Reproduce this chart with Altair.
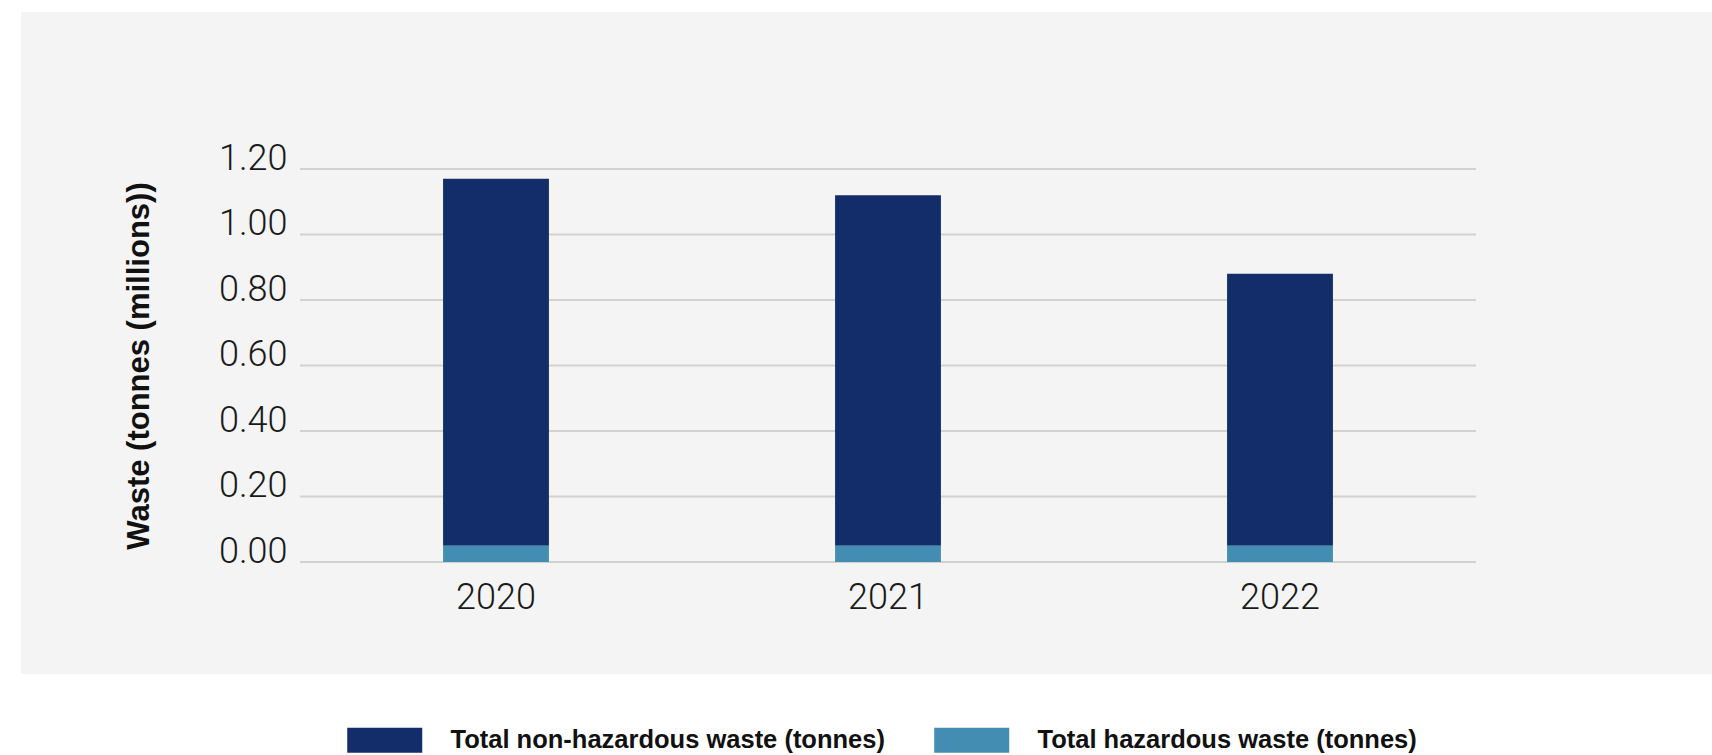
import altair as alt
import pandas as pd

years = ["2020", "2021", "2022"]
non_hazardous = [1.12, 1.07, 0.83]
hazardous = [0.05, 0.05, 0.05]
series = ["Total non-hazardous waste (tonnes)", "Total hazardous waste (tonnes)"]
colors = ["#122D69", "#438DB2"]
y_ticks = [0.0, 0.2, 0.4, 0.6, 0.8, 1.0, 1.2]

rows = []
for i, yr in enumerate(years):
    rows.append({"year": yr, "series": series[0], "value": non_hazardous[i], "stack_order": 1})
    rows.append({"year": yr, "series": series[1], "value": hazardous[i], "stack_order": 0})
df = pd.DataFrame(rows)
grid_df = pd.DataFrame({"tick": y_ticks})

W, H = 1176, 393
yscale = alt.Scale(domain=[0, 1.2], nice=False)

y_axis = alt.Axis(
    values=y_ticks, format=".2f", grid=False, domain=False, ticks=False, zindex=1,
    labelFont="Roboto", labelFontWeight=300, labelFontSize=36,
    labelColor="#1a1a1a", labelBaseline="alphabetic", labelPadding=13,
    title="Waste (tonnes (millions))", titleFont="Liberation Sans",
    titleFontWeight="bold", titleFontSize=31, titleColor="#111111",
    titleX=-161, titleY=H / 2, titleAngle=270, titleAlign="center",
    titleBaseline="middle",
)

bg = alt.Chart(pd.DataFrame({"a": [0]})).mark_rect(color="#F4F4F4").encode(
    x=alt.value(-279), x2=alt.value(1412), y=alt.value(-157), y2=alt.value(505)
)

grid = alt.Chart(grid_df).mark_rule(color="#D1D1D1", strokeWidth=2).encode(
    y=alt.Y("tick:Q", scale=yscale, axis=y_axis),
    x=alt.value(0),
    x2=alt.value(W),
)

bars = alt.Chart(df).mark_bar(width=alt.RelativeBandSize(0.27)).encode(
    x=alt.X(
        "year:N",
        scale=alt.Scale(paddingInner=0, paddingOuter=0),
        axis=alt.Axis(
            title=None, labelAngle=0, domain=False, ticks=False, grid=False, zindex=1,
            labelFont="Roboto", labelFontWeight=300, labelFontSize=36,
            labelColor="#1a1a1a", labelPadding=18,
        ),
    ),
    y=alt.Y("value:Q", stack="zero", scale=yscale, axis=y_axis),
    color=alt.Color(
        "series:N",
        scale=alt.Scale(domain=series, range=colors),
        legend=alt.Legend(
            title=None, orient="none", legendX=47, legendY=558,
            direction="horizontal", columns=2,
            symbolType="M-1,-1H5V1H-1Z", symbolSize=625,
            symbolStrokeWidth=0, symbolOpacity=1,
            labelFont="Liberation Sans", labelFontWeight="bold", labelFontSize=25.5,
            labelColor="#111111", labelOffset=78, labelLimit=1000,
            columnPadding=49, padding=0,
        ),
    ),
    order=alt.Order("stack_order:Q"),
)

chart = alt.layer(bg, grid, bars).properties(
    width=W,
    height=H,
    autosize=alt.AutoSizeParams(type="none"),
    padding={"left": 300, "top": 169, "right": 236, "bottom": 193},
    background="white",
).configure_view(stroke=None)

chart.save("out.html", embed_options={"renderer": "svg", "actions": False})
